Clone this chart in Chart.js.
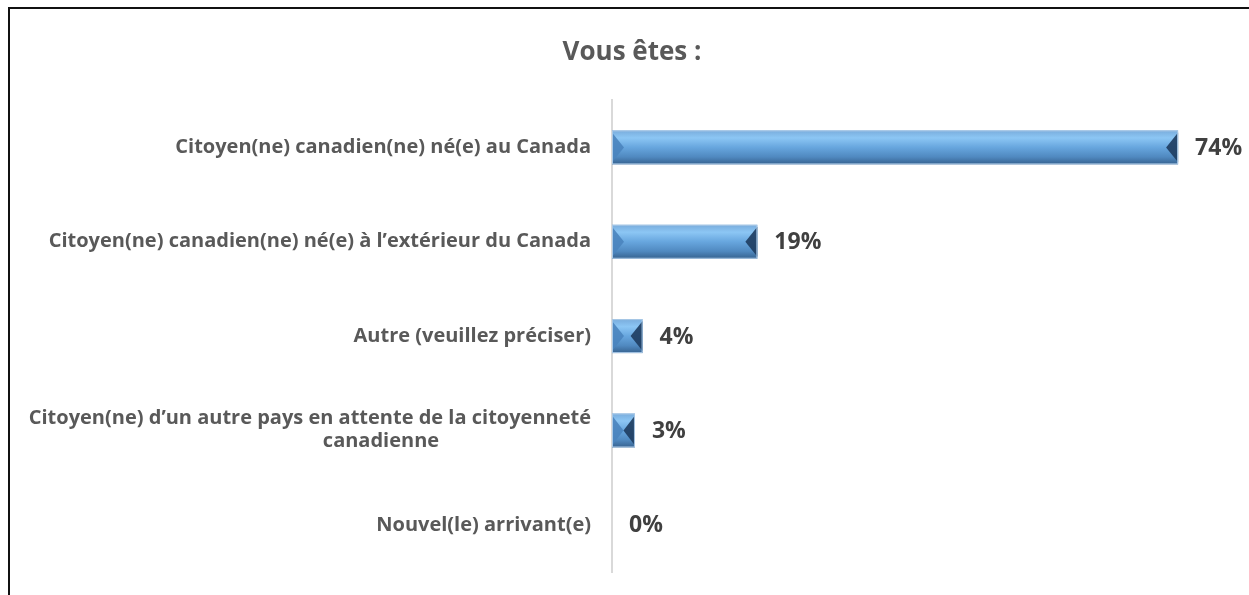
<!DOCTYPE html>
<html lang="fr">
<head>
  <meta charset="UTF-8" />
  <title>Vous êtes :</title>
  <script src="https://cdn.jsdelivr.net/npm/chart.js"></script>
  <style>
    html, body { margin: 0; padding: 0; background: #fff; overflow: hidden; }
    .frame { position: absolute; left: 8px; top: 7px; width: 1300px; height: 700px;
             border-left: 2px solid #111; border-top: 2px solid #111; }
    .wrap { position: absolute; left: 0; top: 0; width: 1249px; height: 595px; }
  </style>
</head>
<body>
  <div class="frame"></div>
  <div class="wrap"><canvas id="chart"></canvas></div>

  <script>
    // chart data
    const categories = [
      'Citoyen(ne) canadien(ne) né(e) au Canada',
      'Citoyen(ne) canadien(ne) né(e) à l’extérieur du Canada',
      'Autre (veuillez préciser)',
      ['Citoyen(ne) d’un autre pays en attente de la citoyenneté', 'canadienne'],
      'Nouvel(le) arrivant(e)'
    ];
    const values = [74, 19, 4, 3, 0];
    const chartTitle = 'Vous êtes :';

    const FONT = '"Open Sans", Lato, sans-serif';

    // category labels drawn by hand so the 2-line one wraps like the original
    const catLabels = {
      id: 'catLabels',
      afterDraw(chart) {
        const ctx = chart.ctx;
        const y = chart.scales.y;
        const right = chart.chartArea.left - 21;
        ctx.save();
        ctx.fillStyle = '#595959';
        ctx.font = 'bold 20px ' + FONT;
        ctx.textBaseline = 'middle';
        categories.forEach((lab, i) => {
          const cy = y.getPixelForTick(i);
          if (Array.isArray(lab)) {
            ctx.textAlign = 'right';
            ctx.fillText(lab[0], right, cy - 12);
            ctx.textAlign = 'center';
            ctx.fillText(lab[1], right - 210, cy + 11);
          } else {
            ctx.textAlign = 'right';
            ctx.fillText(lab, right, cy);
          }
        });
        ctx.restore();
      }
    };

    // bevel look + value labels
    const bevel = {
      id: 'bevel',
      afterDatasetsDraw(chart) {
        const ctx = chart.ctx;
        const meta = chart.getDatasetMeta(0);
        ctx.save();
        meta.data.forEach((bar, i) => {
          const x0 = bar.base, x1 = bar.x;
          const top = bar.y - bar.height / 2, bot = bar.y + bar.height / 2;
          const mid = bar.y;
          const w = x1 - x0;
          if (w >= 1) {
            const g = ctx.createLinearGradient(0, top, 0, bot);
            g.addColorStop(0, '#79acdc');
            g.addColorStop(0.22, '#8cc6f4');
            g.addColorStop(0.5, '#67a6de');
            g.addColorStop(0.78, '#5089c0');
            g.addColorStop(1, '#36628f');
            ctx.fillStyle = g;
            ctx.fillRect(x0, top, w, bot - top);
            const b = Math.min(12, w / 2);
            // left cap
            ctx.fillStyle = 'rgba(74,132,190,0.9)';
            ctx.beginPath();
            ctx.moveTo(x0, top + 2); ctx.lineTo(x0 + b, mid); ctx.lineTo(x0, bot - 2);
            ctx.closePath(); ctx.fill();
            // right cap
            ctx.fillStyle = 'rgba(32,62,98,0.92)';
            ctx.beginPath();
            ctx.moveTo(x1, top + 2); ctx.lineTo(x1 - b, mid); ctx.lineTo(x1, bot - 2);
            ctx.closePath(); ctx.fill();
            ctx.strokeStyle = '#a9c8e6';
            ctx.lineWidth = 1;
            ctx.strokeRect(x0 + 0.5, top + 0.5, w - 1, bot - top - 1);
          }
          ctx.fillStyle = '#404040';
          ctx.font = 'bold 23px ' + FONT;
          ctx.textAlign = 'left';
          ctx.textBaseline = 'middle';
          ctx.fillText(values[i] + '%', x1 + 17, bar.y + 1);
        });
        ctx.restore();
      }
    };

    new Chart(document.getElementById('chart'), {
      type: 'bar',
      data: {
        labels: categories,
        datasets: [{
          data: values,
          backgroundColor: 'rgba(0,0,0,0)',
          categoryPercentage: 1,
          barPercentage: 0.36
        }]
      },
      options: {
        indexAxis: 'y',
        responsive: true,
        maintainAspectRatio: false,
        animation: false,
        layout: { padding: { left: 40, right: 25, top: 0, bottom: 23 } },
        plugins: {
          legend: { display: false },
          tooltip: { enabled: false },
          title: {
            display: true,
            text: chartTitle,
            color: '#595959',
            font: { family: FONT, size: 26, weight: 'bold' },
            padding: { top: 37, bottom: 32 }
          }
        },
        scales: {
          x: { display: false, min: 0, max: 80 },
          y: {
            grid: { display: false },
            border: { display: true, color: '#d9d9d9', width: 2 },
            ticks: { display: false },
            afterFit(scale) { scale.width = 572; }
          }
        }
      },
      plugins: [catLabels, bevel]
    });
  </script>
</body>
</html>
